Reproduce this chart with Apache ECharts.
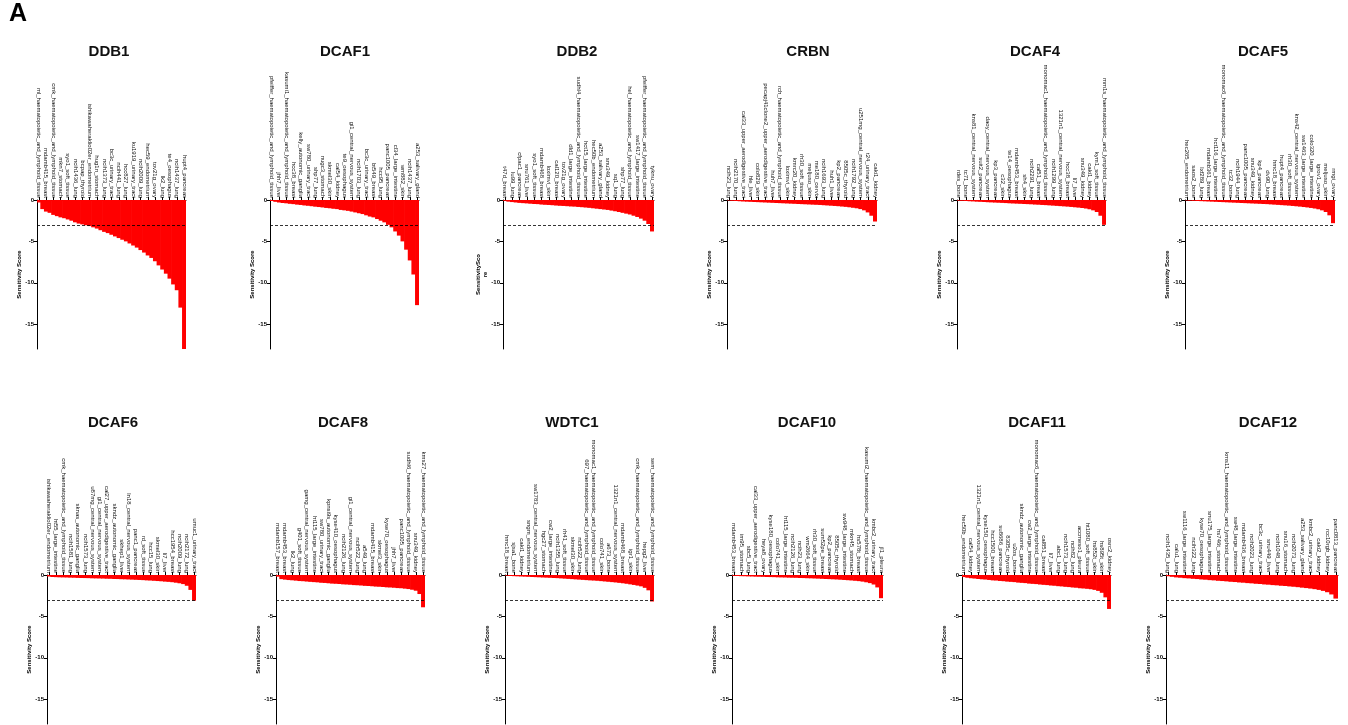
<!DOCTYPE html>
<html>
<head>
<meta charset="utf-8">
<script src="https://cdn.jsdelivr.net/npm/echarts@6/dist/echarts.min.js"></script>
<style>
html,body{margin:0;padding:0;background:#fff;}
#chart{width:1348px;height:725px;}
</style>
</head>
<body>
<div id="chart"></div>
<script>
// ---------------- DATA ----------------
const panelTitles = ['DDB1','DCAF1','DDB2','CRBN','DCAF4','DCAF5','DCAF6','DCAF8','WDTC1','DCAF10','DCAF11','DCAF12'];
const yTickValues = [0, -5, -10, -15];
const thresholdScore = -3;

const ddb1Labels = ['ml_haematopoietic_and_lymphoid_tissue','mdamb415_breast','cmk_haematopoietic_and_lymphoid_tissue','mkn7_stomach','syo1_soft_tissue','ncih1436_lung','bcpap_thyroid','ishikawaheraklio02er_endometrium','hug1n_stomach','ncih1373_lung','bc3c_urinary_tract','ncih441_lung','hcc827_lung','ku1919_urinary_tract','ncih2009_lung','hec59_endometrium','tov21g_ovary','lk2_lung','te4_oesophagus','ncih1437_lung','hupt4_pancreas'];
const ddb1Values = [-0.3,-1.1,-1.4,-1.55,-1.8,-1.95,-2.1,-2.2,-2.35,-2.5,-2.7,-2.85,-2.95,-3.05,-3.15,-3.3,-3.45,-3.65,-3.85,-4.0,-4.2,-4.4,-4.6,-4.8,-5.0,-5.25,-5.5,-5.75,-6.05,-6.35,-6.7,-7.0,-7.4,-7.9,-8.4,-8.9,-9.5,-10.2,-10.9,-13.0,-18];

const dcaf1Labels = ['pfeiffer_haematopoietic_and_lymphoid_tissue','jhh7_liver','kasumi1_haematopoietic_and_lymphoid_tissue','hcc38_breast','kelly_autonomic_ganglia','sw780_urinary_tract','shp77_lung','nugc3_stomach','skmel30_skin','cal54_kidney','te9_oesophagus','gi1_central_nervous_system','ncih1703_lung','bc3c_urinary_tract','bt549_breast','hcc95_lung','panc1005_pancreas','cl34_large_intestine','wm882_skin','ncih1437_lung','a253_salivary_gland'];
const dcaf1Values = [-0.12,-0.22,-0.3,-0.36,-0.4,-0.46,-0.5,-0.56,-0.6,-0.66,-0.7,-0.75,-0.81,-0.85,-0.9,-0.96,-1.0,-1.06,-1.1,-1.2,-1.25,-1.31,-1.4,-1.5,-1.6,-1.7,-1.85,-2.0,-2.1,-2.3,-2.5,-2.7,-3.0,-3.3,-3.8,-4.3,-5.0,-6.0,-7.3,-9.0,-12.7];

const ddb2Labels = ['t47d_breast','lu99_lung','cfpac1_pancreas','snu761_liver','syo1_soft_tissue','mdamb468_breast','loximvi_skin','cal120_breast','tov21g_ovary','dld1_large_intestine','sudhl4_haematopoietic_and_lymphoid_tissue','hct15_large_intestine','hec50b_endometrium','a253_salivary_gland','snu349_kidney','sq1_lung','shp77_lung','hel_haematopoietic_and_lymphoid_tissue','sw1417_large_intestine','pfeiffer_haematopoietic_and_lymphoid_tissue','tyknu_ovary'];
const ddb2Values = [-0.1,-0.2,-0.25,-0.3,-0.35,-0.38,-0.41,-0.45,-0.48,-0.5,-0.55,-0.58,-0.6,-0.63,-0.67,-0.7,-0.72,-0.75,-0.78,-0.8,-0.84,-0.87,-0.91,-0.95,-1.0,-1.05,-1.1,-1.15,-1.2,-1.28,-1.36,-1.45,-1.55,-1.65,-1.75,-1.9,-2.05,-2.25,-2.5,-2.9,-3.8];

const crbnLabels = ['ncih23_lung','ncih2170_lung','cal33_upper_aerodigestive_tract','hle_liver','colo829_skin','pecapj41clone2_upper_aerodigestive_tract','huh7_liver','rch_haematopoietic_and_lymphoid_tissue','loximvi_skin','kmrc20_kidney','rh30_soft_tissue','meljuso_skin','me180_cervix','ncih1693_lung','huh1_liver','kp2_pancreas','8505c_thyroid','ncih1792_lung','u251mg_central_nervous_system','t24_urinary_tract','caki1_kidney'];
const crbnValues = [-0.05,-0.1,-0.12,-0.15,-0.18,-0.2,-0.22,-0.24,-0.26,-0.28,-0.3,-0.32,-0.34,-0.36,-0.38,-0.4,-0.42,-0.44,-0.46,-0.48,-0.5,-0.52,-0.54,-0.56,-0.58,-0.6,-0.63,-0.66,-0.69,-0.72,-0.75,-0.79,-0.83,-0.88,-0.94,-1.0,-1.1,-1.25,-1.5,-1.9,-2.6];

const dcaf4Labels = ['rdes_bone','tc71_bone','kns81_central_nervous_system','suit2_pancreas','daoy_central_nervous_system','kp3_pancreas','c32_skin','te14_oesophagus','mdamb453_breast','sh4_skin','ncih2291_lung','cal51_breast','monomac1_haematopoietic_and_lymphoid_tissue','ncih1299_lung','1321n1_central_nervous_system','hcc38_breast','li7_liver','snu349_kidney','caki1_kidney','kym1_soft_tissue','mm1s_haematopoietic_and_lymphoid_tissue'];
const dcaf4Values = [-0.08,-0.1,-0.12,-0.15,-0.17,-0.2,-0.22,-0.24,-0.27,-0.29,-0.31,-0.33,-0.35,-0.37,-0.4,-0.42,-0.44,-0.46,-0.48,-0.5,-0.52,-0.55,-0.57,-0.6,-0.62,-0.65,-0.68,-0.71,-0.74,-0.77,-0.8,-0.84,-0.88,-0.92,-0.97,-1.03,-1.12,-1.25,-1.45,-1.9,-3.0];

const dcaf5Labels = ['hec265_endometrium','saos2_bone','lxf289_lung','mdamb361_breast','hct116_large_intestine','monomac6_haematopoietic_and_lymphoid_tissue','tc32_bone','ncih1944_lung','panc1005_pancreas','snu349_kidney','kp4_pancreas','dv90_lung','hmc18_breast','hupt4_pancreas','rh30_soft_tissue','kns42_central_nervous_system','sw1463_large_intestine','colo320_large_intestine','igrov1_ovary','meljuso_skin','rmgi_ovary'];
const dcaf5Values = [-0.05,-0.08,-0.1,-0.12,-0.14,-0.16,-0.18,-0.2,-0.22,-0.24,-0.26,-0.28,-0.3,-0.32,-0.34,-0.36,-0.38,-0.4,-0.42,-0.44,-0.46,-0.48,-0.5,-0.53,-0.56,-0.59,-0.62,-0.65,-0.68,-0.72,-0.76,-0.8,-0.85,-0.9,-0.96,-1.03,-1.12,-1.25,-1.45,-1.85,-2.8];

const dcaf6Labels = ['ishikawaheraklio02er_endometrium','ht55_large_intestine','cmk_haematopoietic_and_lymphoid_tissue','ncih1581_lung','sknas_autonomic_ganglia','ncih1573_lung','u87mg_central_nervous_system','gi1_central_nervous_system','cal27_upper_aerodigestive_tract','skndz_autonomic_ganglia','skhep1_liver','ln18_central_nervous_system','panc1_pancreas','rd_soft_tissue','hcc15_lung','skmel30_skin','li7_liver','hcc1954_breast','ncih2009_lung','ncih2172_lung','umuc1_urinary_tract'];
const dcaf6Values = [-0.18,-0.24,-0.26,-0.28,-0.29,-0.3,-0.32,-0.33,-0.35,-0.36,-0.37,-0.38,-0.4,-0.41,-0.42,-0.43,-0.45,-0.46,-0.48,-0.49,-0.51,-0.52,-0.54,-0.56,-0.58,-0.6,-0.62,-0.65,-0.67,-0.7,-0.73,-0.76,-0.8,-0.83,-0.87,-0.93,-1.0,-1.1,-1.3,-1.8,-3.1];

const dcaf8Labels = ['mdamb157_breast','mdamb453_breast','lk2_lung','g401_soft_tissue','gamg_central_nervous_system','ht115_large_intestine','sw780_urinary_tract','kpnsi9s_autonomic_ganglia','kyse410_oesophagus','ncih2126_lung','gi1_central_nervous_system','ncih522_lung','a549_lung','mdamb415_breast','skmel3_skin','kyse70_oesophagus','jhh7_liver','panc1005_pancreas','sudhl6_haematopoietic_and_lymphoid_tissue','snu349_kidney','kms27_haematopoietic_and_lymphoid_tissue'];
const dcaf8Values = [-0.2,-0.5,-0.56,-0.61,-0.64,-0.68,-0.73,-0.75,-0.79,-0.83,-0.86,-0.89,-0.94,-0.96,-1.0,-1.04,-1.06,-1.09,-1.13,-1.15,-1.18,-1.22,-1.24,-1.27,-1.31,-1.33,-1.36,-1.4,-1.42,-1.45,-1.49,-1.51,-1.54,-1.58,-1.6,-1.65,-1.7,-1.78,-1.9,-2.3,-3.9];

const wdtc1Labels = ['hmc18_breast','sjsa1_bone','caki1_kidney','sngm_endometrium','sw1783_central_nervous_system','hgc27_stomach','cw2_large_intestine','ncih1355_lung','rh41_soft_tissue','skmel30_skin','ncih522_lung','697_haematopoietic_and_lymphoid_tissue','monomac1_haematopoietic_and_lymphoid_tissue','colo741_skin','a673_bone','1321n1_central_nervous_system','mdamb468_breast','igr1_skin','cmk_haematopoietic_and_lymphoid_tissue','hepg2_liver','sem_haematopoietic_and_lymphoid_tissue'];
const wdtc1Values = [-0.08,-0.12,-0.14,-0.16,-0.18,-0.2,-0.22,-0.24,-0.26,-0.28,-0.3,-0.32,-0.34,-0.36,-0.38,-0.41,-0.44,-0.47,-0.5,-0.53,-0.56,-0.59,-0.62,-0.65,-0.67,-0.7,-0.74,-0.78,-0.82,-0.86,-0.9,-0.95,-1.0,-1.06,-1.13,-1.2,-1.28,-1.37,-1.55,-1.85,-3.2];

const dcaf10Labels = ['mdamb453_breast','im95_stomach','sbc5_lung','cal33_upper_aerodigestive_tract','heya8_ovary','kyse180_oesophagus','colo741_skin','ht115_large_intestine','ncih2126_lung','ncih23_lung','wm2664_skin','rh30_soft_tissue','sum52pe_breast','kp2_pancreas','8505c_thyroid','sw948_large_intestine','mkn45_stomach','hs578t_breast','kasumi2_haematopoietic_and_lymphoid_tissue','kmbc2_urinary_tract','jl1_pleura'];
const dcaf10Values = [-0.1,-0.12,-0.14,-0.15,-0.17,-0.18,-0.2,-0.21,-0.22,-0.24,-0.25,-0.26,-0.28,-0.29,-0.3,-0.32,-0.33,-0.34,-0.36,-0.37,-0.39,-0.4,-0.42,-0.44,-0.46,-0.48,-0.5,-0.52,-0.54,-0.57,-0.6,-0.63,-0.66,-0.7,-0.74,-0.8,-0.88,-0.98,-1.15,-1.5,-2.8];

const dcaf11Labels = ['hec50b_endometrium','cal54_kidney','1321n1_central_nervous_system','kyse150_oesophagus','hcc1500_breast','su8686_pancreas','8305c_thyroid','u2os_bone','skndz_autonomic_ganglia','cw2_large_intestine','monomac6_haematopoietic_and_lymphoid_tissue','cal851_breast','li7_liver','abc1_lung','ncih1573_lung','ncih82_lung','accmeso1_pleura','ht1080_soft_tissue','hs852t_skin','hs895t_skin','osrc2_kidney'];
const dcaf11Values = [-0.25,-0.33,-0.39,-0.43,-0.48,-0.52,-0.55,-0.6,-0.65,-0.67,-0.72,-0.75,-0.8,-0.83,-0.86,-0.92,-0.95,-0.98,-1.04,-1.07,-1.1,-1.15,-1.19,-1.22,-1.27,-1.3,-1.35,-1.38,-1.43,-1.46,-1.51,-1.54,-1.6,-1.63,-1.67,-1.72,-1.8,-1.92,-2.15,-2.7,-4.1];

const dcaf12Labels = ['ncih1435_lung','calu1_lung','sw1116_large_intestine','ncih322_lung','kyse70_oesophagus','snu175_large_intestine','hs746t_stomach','kms11_haematopoietic_and_lymphoid_tissue','sw48_large_intestine','mdamb436_breast','ncih2023_lung','bc3c_urinary_tract','snu449_liver','ncih1048_lung','snu16_stomach','ncih2073_lung','a253_salivary_gland','kmbc2_urinary_tract','caki2_kidney','rcc10rgb_kidney','panc0813_pancreas'];
const dcaf12Values = [-0.15,-0.22,-0.29,-0.33,-0.38,-0.41,-0.46,-0.49,-0.54,-0.57,-0.62,-0.65,-0.7,-0.73,-0.77,-0.82,-0.85,-0.9,-0.93,-0.98,-1.01,-1.06,-1.09,-1.14,-1.17,-1.22,-1.25,-1.3,-1.33,-1.38,-1.42,-1.47,-1.53,-1.58,-1.64,-1.71,-1.8,-1.92,-2.08,-2.35,-2.85];

const allLabels = [ddb1Labels,dcaf1Labels,ddb2Labels,crbnLabels,dcaf4Labels,dcaf5Labels,dcaf6Labels,dcaf8Labels,wdtc1Labels,dcaf10Labels,dcaf11Labels,dcaf12Labels];
const allValues = [ddb1Values,dcaf1Values,ddb2Values,crbnValues,dcaf4Values,dcaf5Values,dcaf6Values,dcaf8Values,wdtc1Values,dcaf10Values,dcaf11Values,dcaf12Values];
const yNames = ['Sensitivity Score','Sensitivity Score','SensitivitySco\nre','Sensitivity Score','Sensitivity Score','Sensitivity Score','Sensitivity Score','Sensitivity Score','Sensitivity Score','Sensitivity Score','Sensitivity Score','Sensitivity Score'];

// ---------------- LAYOUT (positions/styles) ----------------
const layout = [
  {left:37,  width:149, top:200, titleX:109},
  {left:270, width:149, top:200, titleX:345},
  {left:503, width:151, top:200, titleX:577},
  {left:727, width:150, top:200, titleX:808},
  {left:957, width:149, top:200, titleX:1035},
  {left:1185,width:150, top:200, titleX:1263},
  {left:47,  width:149, top:575, titleX:113},
  {left:276, width:149, top:575, titleX:343},
  {left:505, width:149, top:575, titleX:572},
  {left:732, width:151, top:575, titleX:807},
  {left:962, width:149, top:575, titleX:1037},
  {left:1166,width:172, top:575, titleX:1268}
];
const FONT = 'Liberation Sans, Arial, Helvetica, sans-serif';

const grids = [], xAxes = [], yAxes = [], series = [];
const titles = [{text:'A', left:9, top:2, padding:0, textStyle:{fontSize:25, fontWeight:'bold', color:'#000', fontFamily:FONT}}];

panelTitles.forEach((name, i) => {
  const L = layout[i];
  const labels = allLabels[i];
  const values = allValues[i];
  const showIdx = (idx) => idx % 2 === 0;
  grids.push({left:L.left, top:L.top, width:L.width, height:149, containLabel:false});
  titles.push({text:name, left:L.titleX, top:L.top === 200 ? 44 : 415, textAlign:'center', padding:0,
    textStyle:{fontSize:15, fontWeight:'bold', color:'#111', fontFamily:FONT}});
  xAxes.push({
    gridIndex:i, type:'category', position:'top',
    data: values.map((_, k) => k),
    axisLine:{show:true, onZero:false, lineStyle:{color:'#000', width:1}},
    axisTick:{show:true, interval:showIdx, alignWithLabel:true, length:3, lineStyle:{color:'#000', width:1}},
    axisLabel:{show:true, interval:showIdx, rotate:90, fontSize:6, margin:2, color:'#111', fontFamily:FONT,
      overflow:'none', hideOverlap:false,
      formatter:(v, idx) => labels[idx / 2] || ''},
    splitLine:{show:false}
  });
  yAxes.push({
    gridIndex:i, type:'value', min:-18, max:0,
    name:yNames[i], nameLocation:'middle', nameGap:14, nameRotate:90, nameMoveOverlap:false,
    nameTextStyle:{fontSize:6, fontWeight:'bold', color:'#000', fontFamily:FONT, lineHeight:7},
    axisLine:{show:true, onZero:false, lineStyle:{color:'#000', width:1}},
    axisTick:{show:true, length:3, customValues:yTickValues, lineStyle:{color:'#000'}},
    axisLabel:{fontSize:6, fontWeight:'bold', margin:3, color:'#000', fontFamily:FONT, customValues:yTickValues},
    splitLine:{show:false}
  });
  series.push({
    type:'bar', xAxisIndex:i, yAxisIndex:i, data:values,
    barWidth:'118%',
    itemStyle:{color:'#ff0000', borderWidth:0},
    silent:true, animation:false,
    markLine:{silent:true, symbol:['none','none'], label:{show:false},
      lineStyle:{color:'#000', type:[3,2], width:0.8},
      data:[{yAxis:thresholdScore}]}
  });
});

const chart = echarts.init(document.getElementById('chart'), null, {renderer:'canvas'});
chart.setOption({
  backgroundColor:'#fff',
  animation:false,
  textStyle:{fontFamily:FONT},
  title:titles,
  grid:grids,
  xAxis:xAxes,
  yAxis:yAxes,
  series:series
});
</script>
</body>
</html>
